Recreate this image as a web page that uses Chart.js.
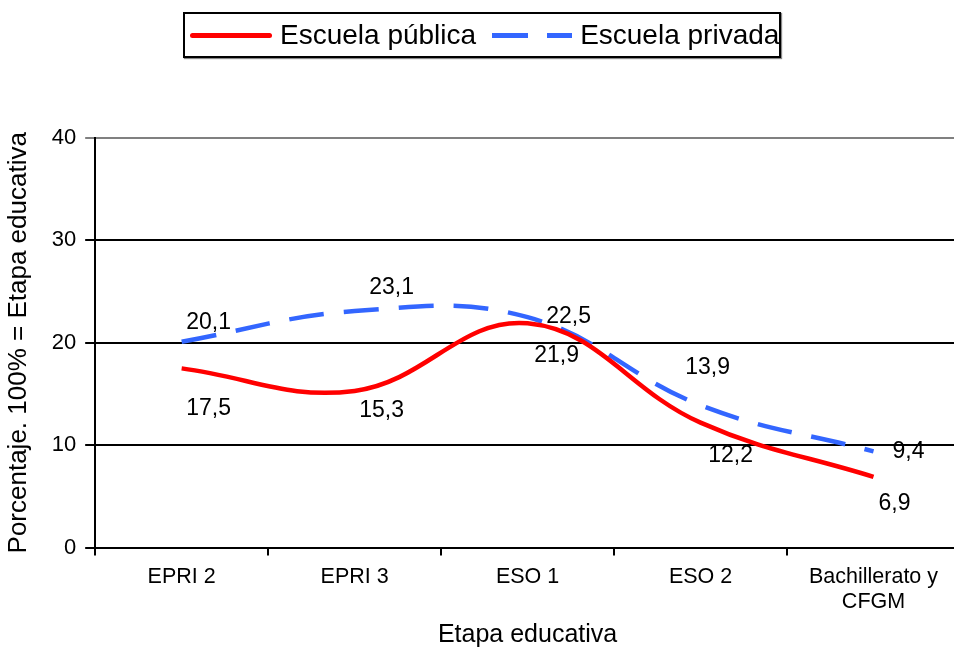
<!DOCTYPE html>
<html lang="es">
<head>
<meta charset="utf-8">
<title>Escuela pública / privada</title>
<script src="https://cdn.jsdelivr.net/npm/chart.js@4/dist/chart.umd.min.js"></script>
<style>
  html, body { margin: 0; padding: 0; background: #fff; overflow: hidden; }
  #wrap { position: relative; width: 954px; height: 648px; overflow: hidden; }
  #chart { position: absolute; left: 0; top: 0; }
  #legend {
    position: absolute; left: 183px; top: 12px; width: 598px; height: 46px;
    box-sizing: border-box; border: 2px solid #000;
    box-shadow: 1px 1px 1px #888;
    font-family: 'Liberation Sans', Arial, sans-serif; font-size: 28px; color: #000;
    display: flex; align-items: center; white-space: nowrap;
  }
  .item { display: flex; align-items: center; }
  .swatch { position: relative; height: 5px; }
</style>
</head>
<body>
<div id="wrap">
  <canvas id="chart" width="962" height="648"></canvas>
  <div id="legend"></div>
</div>
<script>
// カテゴリ（X軸）
const categories = ['EPRI 2', 'EPRI 3', 'ESO 1', 'ESO 2', ['Bachillerato y', 'CFGM']];
// 系列名
const seriesNames = ['Escuela pública', 'Escuela privada'];
// 公立
const publicValues = [17.5, 15.3, 21.9, 12.2, 6.9];
// 私立
const privateValues = [20.1, 23.1, 22.5, 13.9, 9.4];
// Y軸の目盛り
const yTicks = [0, 10, 20, 30, 40];

const RED = '#FF0000';
const BLUE = '#3366FF';
const FONT = "'Liberation Sans', Arial, sans-serif";

// データラベルを描く（小数点はカンマ）
const valueLabels = {
    id: 'valueLabels',
    afterDatasetsDraw(chart) {
        const ctx = chart.ctx;
        ctx.save();
        ctx.font = '23px ' + FONT;
        ctx.fillStyle = '#000';
        ctx.textAlign = 'center';
        ctx.textBaseline = 'middle';
        chart.data.datasets.forEach((ds, i) => {
            const meta = chart.getDatasetMeta(i);
            meta.data.forEach((pt, j) => {
                const off = ds.labelOffsets[j];
                ctx.fillText(ds.data[j].toFixed(1).replace('.', ','), pt.x + off[0], pt.y + off[1]);
            });
        });
        ctx.restore();
    }
};

const ctx = document.getElementById('chart').getContext('2d');
const chart = new Chart(ctx, {
    type: 'line',
    data: {
        labels: categories,
        datasets: [
            {
                label: seriesNames[0],
                data: publicValues,
                borderColor: RED,
                borderWidth: 4.5,
                pointRadius: 0,
                tension: 0.4,
                labelOffsets: [[27, 40], [27, 20], [29, 32], [30, 33], [21, 27]],
            },
            {
                label: seriesNames[1],
                data: privateValues,
                borderColor: BLUE,
                borderWidth: 4.5,
                borderDash: [35, 20],
                pointRadius: 0,
                tension: 0.4,
                labelOffsets: [[27, -19], [37, -23], [41, -1], [7, -38], [35, 0]],
            },
        ],
    },
    options: {
        responsive: false,
        animation: false,
        layout: { padding: { top: 138, left: 0, right: 2, bottom: 0 } },
        plugins: {
            legend: { display: false },
            tooltip: { enabled: false },
        },
        scales: {
            x: {
                offset: true,
                grid: {
                    offset: true,
                    drawOnChartArea: false,
                    drawTicks: true,
                    tickLength: 8,
                    color: '#000',
                    lineWidth: 2,
                },
                border: { color: '#000', width: 2 },
                ticks: {
                    color: '#000',
                    font: { family: FONT, size: 21.5, lineHeight: 1.15 },
                    padding: 9,
                    maxRotation: 0,
                    autoSkip: false,
                },
                title: {
                    display: true,
                    text: 'Etapa educativa',
                    color: '#000',
                    font: { family: FONT, size: 25, lineHeight: 1.0 },
                    padding: { top: 0, bottom: 0 },
                },
            },
            y: {
                min: yTicks[0],
                max: yTicks[yTicks.length - 1],
                afterBuildTicks: (axis) => { axis.ticks = yTicks.map(v => ({ value: v })); },
                grid: {
                    color: (c) => c.tick && c.tick.value === 40 ? '#808080' : '#000',
                    lineWidth: 2,
                    tickLength: 10,
                },
                border: { color: '#000', width: 2 },
                ticks: {
                    color: '#000',
                    font: { family: FONT, size: 22 },
                    padding: 9,
                },
                title: {
                    display: true,
                    text: 'Porcentaje. 100% = Etapa educativa',
                    color: '#000',
                    font: { family: FONT, size: 26 },
                    padding: { top: 3, bottom: 8.5 },
                },
            },
        },
    },
    plugins: [valueLabels],
});

// 凡例（枠付き）をHTMLで作成
const legend = document.getElementById('legend');
function addItem(name, color, dashed, marginLeft) {
    const item = document.createElement('div');
    item.className = 'item';
    item.style.marginLeft = marginLeft + 'px';
    const sw = document.createElement('div');
    sw.className = 'swatch';
    if (dashed) {
        sw.style.width = '80px';
        sw.style.background = `linear-gradient(to right, ${color} 0 36px, transparent 36px 55px, ${color} 55px 80px)`;
    } else {
        sw.style.width = '82px';
        sw.style.background = color;
        sw.style.borderRadius = '3px';
    }
    const txt = document.createElement('span');
    txt.textContent = name;
    txt.style.marginLeft = '8px';
    item.appendChild(sw);
    item.appendChild(txt);
    legend.appendChild(item);
}
addItem(seriesNames[0], RED, false, 5);
addItem(seriesNames[1], BLUE, true, 16);
</script>
</body>
</html>
